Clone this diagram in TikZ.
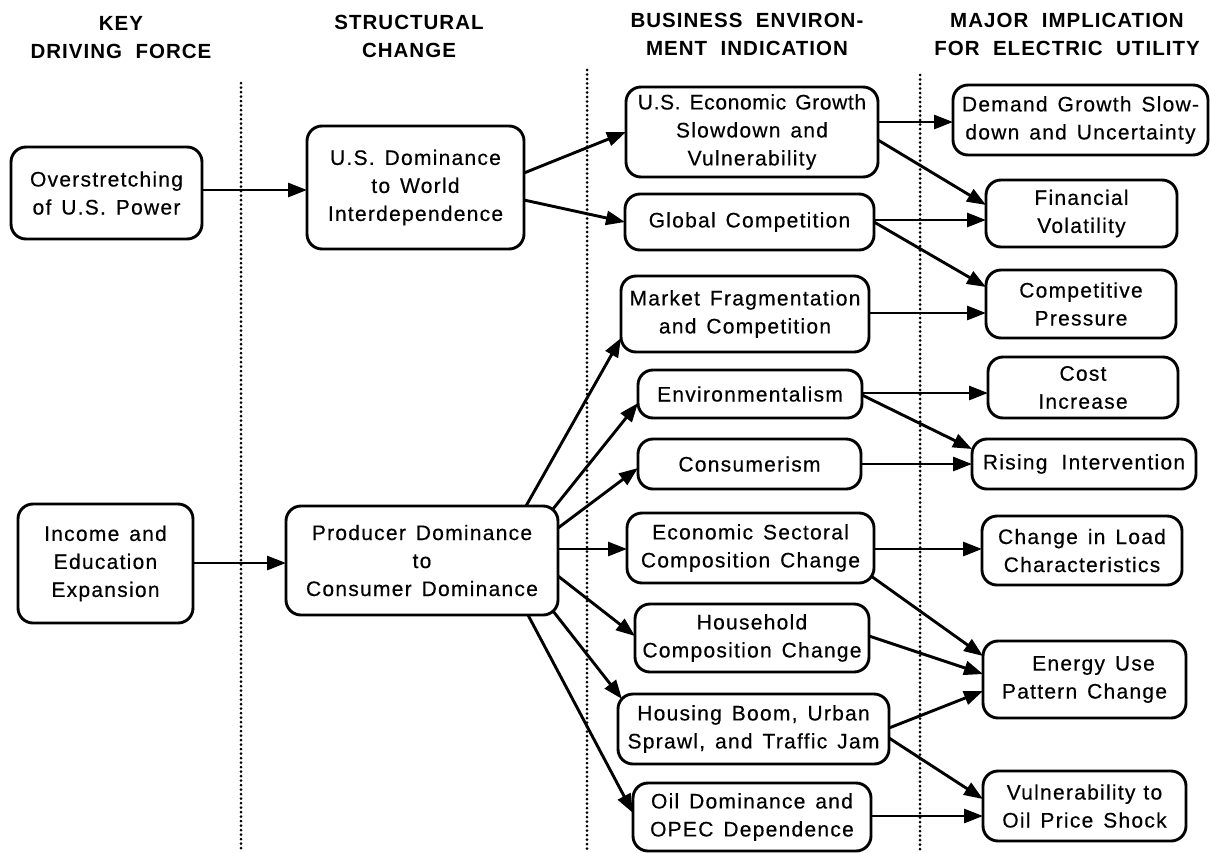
\documentclass[tikz,border=0pt]{standalone}
\usepackage{fontspec}
\usetikzlibrary{arrows.meta}
\newfontfamily\bodyfont{Liberation Sans}[LetterSpace=6,WordSpace=1.4,FakeBold=0.4]
\newfontfamily\headfont{Liberation Sans}[LetterSpace=5,WordSpace=2]
\begin{document}
\begin{tikzpicture}[x=1pt,y=-1pt,
  box/.style={draw, line width=2.9pt, rounded corners=15pt, align=center,
    inner sep=0pt, outer sep=0pt,
    font={\bodyfont\fontsize{21}{28}\selectfont}},
  head/.style={align=center, inner sep=0pt,
    font={\headfont\bfseries\fontsize{20.5}{28}\selectfont}},
  link/.style={line width=2.9pt, -{Triangle[length=19pt 0 0,width=14pt 0 0]}},
  sep/.style={line width=3pt, dash pattern=on 0pt off 4.5pt, line cap=round}]
\useasboundingbox (0,0) rectangle (1210,852);

% column headings
\node[head] (h1) at (121,37.5) {KEY\\DRIVING FORCE};
\node[head] (h2) at (409,36) {STRUCTURAL\\CHANGE};
\node[head] (h3) at (747,34) {BUSINESS ENVIRON-\\MENT INDICATION};
\node[head] (h4) at (1067,34) {MAJOR IMPLICATION\\FOR ELECTRIC UTILITY};

% dotted column separators
\draw[sep] (241,83) -- (241,852);
\draw[sep] (587,70) -- (587,852);
\draw[sep] (920,75) -- (920,852);

% key driving forces
\node[box, minimum width=191pt, minimum height=92pt] (over) at (106.5,193) {Overstretching\\of U.S. Power};
\node[box, minimum width=175pt, minimum height=119pt] (inc) at (105.5,563.5) {Income and\\Education\\Expansion};

% structural changes
\node[box, minimum width=217pt, minimum height=123pt] (usd) at (415.5,187.5) {U.S. Dominance\\to World\\Interdependence};
\node[box, minimum width=272pt, minimum height=109pt] (prod) at (422,560.5) {Producer Dominance\\to\\Consumer Dominance};

% business environment indications
\node[box, minimum width=252pt, minimum height=90pt] (useg) at (752,132) {{\addfontfeature{LetterSpace=3}U.S. Economic Growth}\\Slowdown and\\Vulnerability};
\node[box, minimum width=249pt, minimum height=56pt] (gc) at (749.5,222) {Global Competition};
\node[box, minimum width=248pt, minimum height=76pt] (mf) at (745,314) {Market Fragmentation\\and Competition};
\node[box, minimum width=224pt, minimum height=48pt] (env) at (750,394) {Environmentalism};
\node[box, minimum width=223pt, minimum height=50pt] (cons) at (749.5,464) {Consumerism};
\node[box, minimum width=247pt, minimum height=70pt] (econ) at (750.5,548) {Economic Sectoral\\Composition Change};
\node[box, minimum width=234pt, minimum height=68pt] (hh) at (752,638) {Household\\Composition Change};
\node[box, minimum width=271pt, minimum height=70pt] (hous) at (753.5,729) {Housing Boom, Urban\\Sprawl, and Traffic Jam};
\node[box, minimum width=238pt, minimum height=68pt] (oil) at (752,817) {Oil Dominance and\\OPEC Dependence};

% implications for the electric utility
\node[box, minimum width=255pt, minimum height=70pt] (dem) at (1080.5,120) {Demand Growth Slow-\\down and Uncertainty};
\node[box, minimum width=191pt, minimum height=67pt] (fin) at (1081.5,213.5) {Financial\\Volatility};
\node[box, minimum width=190pt, minimum height=68pt] (cp) at (1081,304) {Competitive\\Pressure};
\node[box, minimum width=190pt, minimum height=61pt] (cost) at (1083,387.5) {Cost\\Increase};
\node[box, minimum width=224pt, minimum height=50pt] (ri) at (1084,464) {Rising\hspace{14pt}Intervention};
\node[box, minimum width=200pt, minimum height=69pt] (cl) at (1082,550.5) {Change in Load\\Characteristics};
\node[box, minimum width=203pt, minimum height=77pt] (eu) at (1084.5,679.5) {\hspace*{18pt}Energy Use\\Pattern Change};
\node[box, minimum width=203pt, minimum height=70pt] (vul) at (1084.5,806) {Vulnerability\hspace{8pt}to\\Oil Price Shock};

% driving forces to structural changes
\draw[link] ([yshift=3pt]over.east) -- ([yshift=-2.5pt]usd.west);
\draw[link] ([yshift=0.5pt]inc.east) -- ([yshift=-2.5pt]prod.west);

% structural changes to business environment
\draw[link] ([yshift=14.5pt]usd.east) -- (useg.west);
\draw[link] ([yshift=-12.5pt]usd.east) -- (gc.west);
\draw[link] ([xshift=-32pt]prod.north east) -- ([yshift=14pt]mf.south west);
\draw[link] ([xshift=-5pt,yshift=-3pt]prod.north east) -- ([yshift=-9pt]env.west);
\draw[link] ([yshift=32.5pt]prod.east) -- ([yshift=-4pt]cons.west);
\draw[link] ([yshift=11.5pt]prod.east) -- ([yshift=-1pt]econ.west);
\draw[link] ([yshift=-15.5pt]prod.east) -- ([yshift=2pt]hh.west);
\draw[link] ([xshift=-5pt,yshift=4pt]prod.south east) -- ([xshift=4pt,yshift=-5pt]hous.north west);
\draw[link] ([xshift=-30pt]prod.south east) -- ([yshift=4pt]oil.west);

% business environment to implications
\draw[link] ([yshift=10pt]useg.east) -- ([yshift=-2pt]dem.west);
\draw[link] ([yshift=-8pt]useg.east) -- ([yshift=8.5pt]fin.west);
\draw[link] ([yshift=2pt]gc.east) -- ([yshift=-6.5pt]fin.west);
\draw[link] (gc.east) -- ([yshift=17pt]cp.west);
\draw[link] ([yshift=1pt]mf.east) -- ([yshift=-9pt]cp.west);
\draw[link] ([yshift=1pt]env.east) -- ([yshift=-5.5pt]cost.west);
\draw[link] ([yshift=-1pt]env.east) -- ([yshift=15pt]ri.west);
\draw[link] (cons.east) -- (ri.west);
\draw[link] ([yshift=-1pt]econ.east) -- ([yshift=1.5pt]cl.west);
\draw[link] ([xshift=-3pt,yshift=7pt]econ.south east) -- ([yshift=23.5pt]eu.west);
\draw[link] ([yshift=2pt]hh.east) -- ([yshift=5.5pt]eu.west);
\draw[link] ([yshift=1pt]hous.east) -- ([yshift=-11.5pt]eu.west);
\draw[link] ([yshift=-9pt]hous.east) -- ([yshift=7pt]vul.west);
\draw[link] ([yshift=1pt]oil.east) -- ([yshift=-10pt]vul.west);
\end{tikzpicture}
\end{document}
